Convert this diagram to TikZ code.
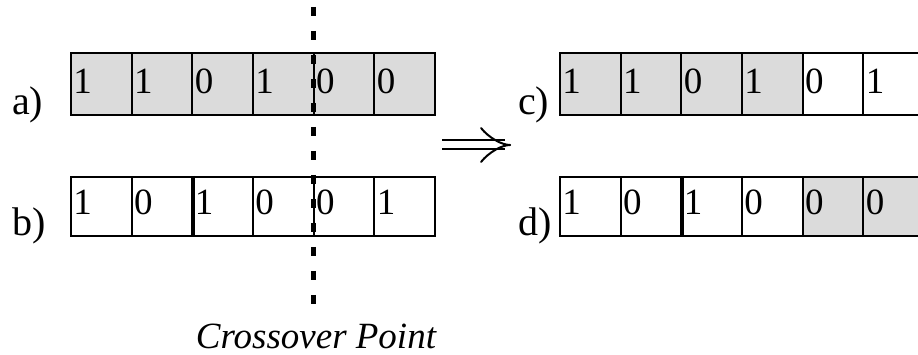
\documentclass[tikz,border=0pt]{standalone}
\usepackage{fontspec}
\setmainfont{Liberation Serif}
\usetikzlibrary{arrows.meta}

\begin{document}
\begin{tikzpicture}[x=1pt,y=-1pt,bit/.style={shape=rectangle,draw=black,line width=2pt,text width=55.7pt,inner xsep=2.5pt,inner ysep=0pt,align=left,text height=41pt,text depth=21pt,font={\fontsize{37}{40}\selectfont}},bitL/.style={bit,text height=38pt},bitG/.style={bit,fill=black!14},bitLG/.style={bitL,fill=black!14},tag/.style={anchor=base west,inner sep=0pt,font={\fontsize{40}{44}\selectfont}}]
\def\dw{60.67};
\def\xl{101.33};
\def\xr{590.33};
\def\yu{84};
\def\yd{206.5};

\useasboundingbox (0,0) rectangle (918,355);

\node[tag] (la) at (12,115) {a)};
\node[bitG] (a1) at (\xl,\yu) {1};
\node[bitG] (a2) at (\xl+\dw,\yu) {1};
\node[bitG] (a3) at (\xl+2*\dw,\yu) {0};
\node[bitG] (a4) at (\xl+3*\dw,\yu) {1};
\node[bitG] (a5) at (\xl+4*\dw,\yu) {0};
\node[bitG] (a6) at (\xl+5*\dw,\yu) {0};

\node[tag] (lb) at (12,236) {b)};
\node[bitL] (b1) at (\xl,\yd) {1};
\node[bitL] (b2) at (\xl+\dw,\yd) {0};
\node[bitL] (b3) at (\xl+2*\dw,\yd) {1};
\node[bitL] (b4) at (\xl+3*\dw,\yd) {0};
\node[bitL] (b5) at (\xl+4*\dw,\yd) {0};
\node[bitL] (b6) at (\xl+5*\dw,\yd) {1};
\draw[line width=4pt] (b2.north east) -- (b2.south east);

\node[tag] (lc) at (518,115) {c)};
\node[bitG] (c1) at (\xr,\yu) {1};
\node[bitG] (c2) at (\xr+\dw,\yu) {1};
\node[bitG] (c3) at (\xr+2*\dw,\yu) {0};
\node[bitG] (c4) at (\xr+3*\dw,\yu) {1};
\node[bit] (c5) at (\xr+4*\dw,\yu) {0};
\node[bit] (c6) at (\xr+5*\dw,\yu) {1};

\node[tag] (ld) at (518,236) {d)};
\node[bitL] (d1) at (\xr,\yd) {1};
\node[bitL] (d2) at (\xr+\dw,\yd) {0};
\node[bitL] (d3) at (\xr+2*\dw,\yd) {1};
\node[bitL] (d4) at (\xr+3*\dw,\yd) {0};
\node[bitLG] (d5) at (\xr+4*\dw,\yd) {0};
\node[bitLG] (d6) at (\xr+5*\dw,\yd) {0};
\draw[line width=4pt] (d2.north east) -- (d2.south east);

% crossover cut
\coordinate (cutT) at (313,7);
\coordinate (cutB) at (313,305);
\draw[line width=5pt,dash pattern=on 9pt off 15pt] (cutT) -- (cutB);
\node[anchor=base,inner sep=0pt,font={\fontsize{37}{40}\selectfont\itshape}] (cp) at (316,348) {Crossover Point};

% implies arrow
\coordinate (arrS) at (442,145);
\coordinate (arrE) at (510,145);
\draw[line width=2pt,double,double distance=7pt,shorten >=5pt] (arrS) -- (arrE);
\draw[line width=2pt,line cap=round] (arrE) .. controls +(-8,0) and +(8,10) .. +(-29,-17);
\draw[line width=2pt,line cap=round] (arrE) .. controls +(-8,0) and +(8,-10) .. +(-29,17);
\end{tikzpicture}
\end{document}
